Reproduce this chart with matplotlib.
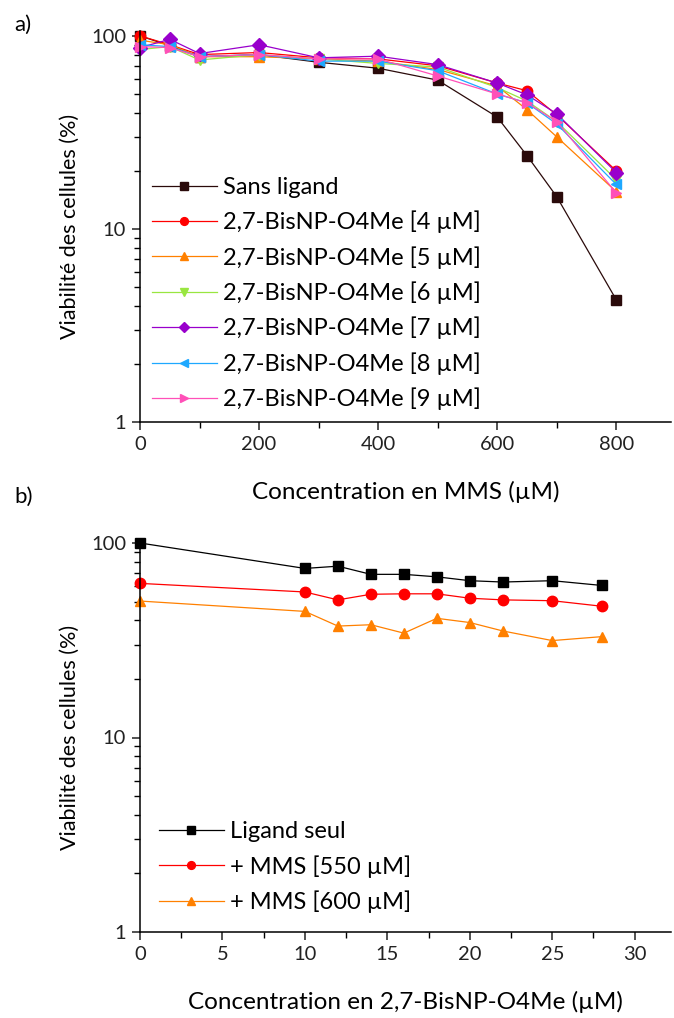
import numpy as np
import matplotlib.pyplot as plt
from matplotlib.ticker import LogLocator, MultipleLocator, FixedLocator, NullFormatter

plt.rcParams['font.family'] = ['Lato', 'DejaVu Sans']

# Panel a) : viability vs MMS concentration
mmsConc = [0, 50, 100, 200, 300, 400, 500, 600, 650, 700, 800]
sansLigand = [100, 89, 78, 80, 73, 68, 59, 38, 24, 14.7, 4.3]
ligand4 = [100, 90, 80, 82, 77, 76, 70, 57, 52, 39, 20]
ligand5 = [95, 90, 78, 78, 76, 74, 67, 55, 41.5, 30, 15.6]
ligand6 = [85, 88, 75, 80, 76, 72, 69, 54, 46, 36, 18]
ligand7 = [87, 96, 81, 90, 77, 78.5, 71, 57, 49.5, 39.5, 19.6]
ligand8 = [90, 88, 78, 80, 74, 74, 66, 50, 45, 35, 17]
ligand9 = [88, 87, 78, 80, 76, 76, 62, 50, 45, 36, 15.4]
labelsA = ['Sans ligand'] + ['2,7-BisNP-O4Me [%d µM]' % c for c in [4, 5, 6, 7, 8, 9]]

# Panel b) : viability vs ligand concentration
ligandConc = [0, 10, 12, 14, 16, 18, 20, 22, 25, 28]
ligandSeul = [100, 74, 76, 69, 69, 67, 64, 63, 64, 60.5]
mms550 = [62, 56, 51, 54.5, 54.8, 54.8, 52, 51, 50.5, 47.3]
mms600 = [50.3, 44.5, 37.4, 38, 34.4, 41, 39, 35.3, 31.5, 33]
labelsB = ['Ligand seul', '+ MMS [550 µM]', '+ MMS [600 µM]']

colorsA = ['#2a0a0a', '#ff0000', '#ff8000', '#99e640', '#9900cc', '#1ea8ff', '#ff50b8']
markersA = ['s', 'o', '^', 'v', 'D', '<', '>']
colorsB = ['#000000', '#ff0000', '#ff8000']
markersB = ['s', 'o', '^']

tickSize = 14.5
legendSize = 17

def styleAxes(ax):
	ax.spines['top'].set_visible(False)
	ax.spines['right'].set_visible(False)
	ax.spines['left'].set_linewidth(1.1)
	ax.spines['bottom'].set_linewidth(1.1)
	ax.set_yscale('log')
	ax.yaxis.set_major_locator(FixedLocator([1, 10, 100]))
	ax.yaxis.set_minor_locator(LogLocator(base=10, subs=np.arange(2, 10)))
	ax.yaxis.set_minor_formatter(NullFormatter())
	ax.set_yticklabels(['1', '10', '100'])
	ax.tick_params(which='major', direction='out', length=6, width=1.1, labelsize=tickSize,
		colors='#222222', pad=4)
	ax.tick_params(which='minor', direction='out', length=4, width=1.0)
	ax.set_ylabel('Viabilité des cellules (%)', fontsize=15.5, labelpad=8)

fig = plt.figure(figsize=(6.74, 10.18), dpi=100)
axA = fig.add_axes([140/674, 1 - 422/1018, 531/674, 391/1018])
axB = fig.add_axes([140/674, 1 - 932/1018, 531/674, 389/1018])

seriesA = [sansLigand, ligand4, ligand5, ligand6, ligand7, ligand8, ligand9]
for vals, col, mk, lab in zip(seriesA, colorsA, markersA, labelsA):
	ms = 7.5 if mk != 'D' else 7
	axA.plot(mmsConc, vals, color=col, marker=mk, markersize=ms, linewidth=0.9, label=lab, clip_on=False)

seriesB = [ligandSeul, mms550, mms600]
for vals, col, mk, lab in zip(seriesB, colorsB, markersB, labelsB):
	axB.plot(ligandConc, vals, color=col, marker=mk, markersize=7.5, linewidth=0.9, label=lab, clip_on=False)

styleAxes(axA)
axA.set_xlim(0, 892)
axA.set_ylim(1, 106)
axA.xaxis.set_major_locator(MultipleLocator(200))
axA.xaxis.set_minor_locator(MultipleLocator(100))
axA.set_xlabel('Concentration en MMS (µM)', fontsize=17.5, labelpad=20)

styleAxes(axB)
axB.set_xlim(0, 32.2)
axB.set_ylim(1, 100)
axB.xaxis.set_major_locator(MultipleLocator(5))
axB.xaxis.set_minor_locator(MultipleLocator(2.5))
axB.set_xlabel('Concentration en 2,7-BisNP-O4Me (µM)', fontsize=17.5, labelpad=20)

for ax, pad in [(axA, 0.3), (axB, 0.6)]:
	ax.legend(loc='lower left', bbox_to_anchor=(0.0, 0.0), frameon=False, fontsize=legendSize,
		handlelength=2.75, handletextpad=0.25, labelspacing=0.54, markerscale=0.75,
		borderaxespad=pad, borderpad=0.2)

fig.text(14/674, 1 - 25/1018, 'a)', fontsize=16, va='center')
fig.text(14/674, 1 - 497/1018, 'b)', fontsize=16, va='center')

fig.savefig('out.png', dpi=100)
